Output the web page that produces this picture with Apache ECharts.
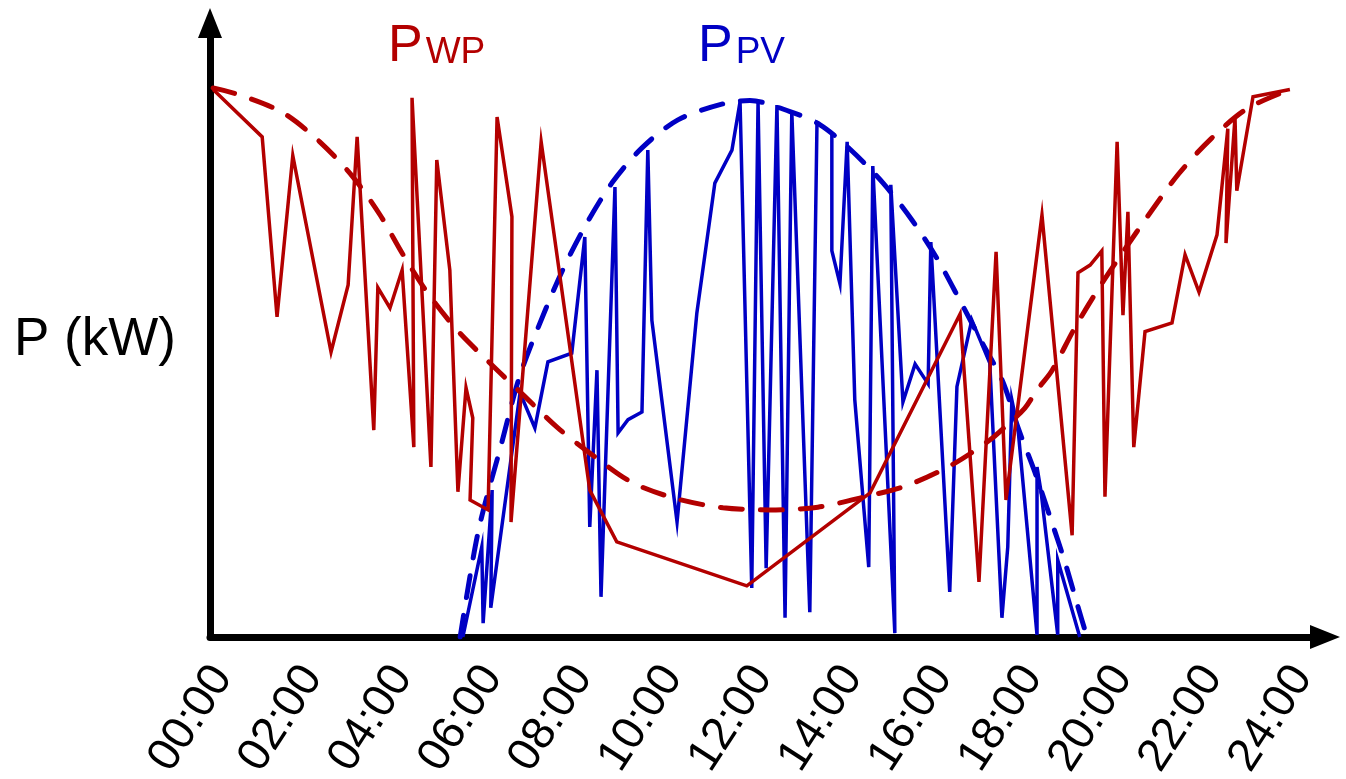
<!DOCTYPE html>
<html>
<head>
<meta charset="utf-8">
<title>P_WP / P_PV</title>
<script src="https://cdn.jsdelivr.net/npm/echarts/dist/echarts.min.js"></script>
<style>
  html, body { margin: 0; padding: 0; background: #fff; }
  #chart { width: 1346px; height: 779px; }
</style>
</head>
<body>
<div id="chart"></div>
<script>
// time of day in hours, power in arbitrary units (0..100)
var tickLabels = ['00:00', '02:00', '04:00', '06:00', '08:00', '10:00', '12:00',
                  '14:00', '16:00', '18:00', '20:00', '22:00', '24:00'];

// wind power, measured
var wpHours = [0.07, 1.16, 1.49, 1.84, 2.69, 3.07, 3.27, 3.64, 3.73, 4.00, 4.27, 4.53, 4.49, 4.91,
  5.04, 5.33, 5.51, 5.69, 5.84, 5.78, 6.18, 6.38, 6.71, 6.69, 7.36, 8.44, 9.04, 11.93, 14.67,
  16.67, 17.09, 17.47, 17.69, 18.49, 19.16, 19.29, 19.56, 19.82, 19.89, 20.16, 20.29, 20.40,
  20.53, 20.78, 21.38, 21.67, 21.98, 22.38, 22.62, 22.58, 22.78, 22.82, 23.18, 24.00];
var wpPower = [99.5, 90.9, 58.2, 87.5, 51.8, 64.0, 90.9, 37.6, 63.5, 59.8, 66.7, 34.5, 98.0, 30.9,
  86.7, 66.7, 26.4, 45.3, 39.8, 24.9, 23.1, 94.5, 76.4, 20.9, 90.0, 26.7, 17.3, 9.3, 26.2,
  58.7, 10.0, 70.0, 24.9, 76.7, 18.5, 66.2, 67.6, 70.2, 25.5, 90.0, 58.5, 77.3,
  34.5, 55.5, 57.1, 69.5, 62.7, 73.1, 92.4, 71.6, 94.4, 81.1, 98.2, 99.5];

// wind power, trend (dashed)
var wpTrendHours = [0.07, 0.67, 1.62, 2.44, 3.18, 3.78, 4.29, 4.84, 5.49, 6.22, 6.96, 7.73, 8.56,
  9.40, 10.38, 11.40, 12.44, 13.51, 14.56, 15.51, 16.49, 17.33, 17.71, 18.11, 18.38, 18.71,
  19.22, 19.76, 20.29, 20.91, 21.53, 22.24, 23.04, 24.00];
var wpTrendPower = [99.8, 98.5, 95.3, 90.0, 83.6, 76.7, 69.5, 62.5, 55.8, 49.8, 44.0, 38.0, 32.7,
  28.0, 25.1, 23.5, 23.1, 23.6, 25.5, 27.6, 31.3, 35.8, 38.5, 41.6, 44.9, 48.4,
  56.2, 63.5, 70.0, 77.3, 84.2, 90.5, 96.0, 99.5];

// photovoltaic power, measured
var pvHours = [5.62, 6.04, 6.07, 6.27, 6.24, 6.89, 7.22, 7.51, 8.04, 8.33, 8.44, 8.60, 8.69, 9.00,
  9.07, 9.29, 9.60, 9.73, 9.82, 10.38, 10.82, 11.22, 11.60, 11.78, 12.04, 12.18, 12.36, 12.60,
  12.78, 12.93, 13.33, 13.49, 13.82, 13.82, 14.00, 14.16, 14.33, 14.64, 14.73, 15.22, 15.13,
  15.40, 15.67, 15.96, 16.02, 16.44, 16.60, 16.93, 17.33, 17.60, 17.73, 17.82, 17.96, 18.38,
  18.38, 18.47, 18.84, 18.84, 19.33];
var pvPower = [0, 16.4, 2.5, 26.7, 5.3, 44.4, 38.0, 50.0, 51.6, 72.7, 20.0, 48.5, 7.3, 81.8,
  37.1, 39.5, 40.9, 88.5, 57.6, 20.9, 58.9, 82.5, 88.5, 97.3, 8.9, 97.3, 12.5, 96.7,
  3.5, 95.5, 4.5, 93.5, 91.6, 70.2, 64.2, 90.0, 43.1, 12.7, 85.6, 0.7, 82.2,
  42.7, 49.6, 46.0, 71.8, 8.2, 45.5, 57.6, 49.8, 3.5, 16.4, 43.1, 37.6, 0.4,
  30.9, 26.4, 0.4, 14.0, 0];

// photovoltaic power, trend (dashed)
var pvTrendHours = [5.56, 5.96, 6.49, 6.89, 7.47, 7.89, 8.38, 8.93, 9.60, 10.40, 11.40, 12.00,
  12.89, 13.56, 14.22, 14.96, 15.60, 16.18, 16.67, 17.16, 17.62, 17.96, 18.33, 18.67, 19.00,
  19.29, 19.49];
var pvTrendPower = [0, 19.1, 35.5, 47.6, 59.8, 67.6, 75.3, 82.5, 88.9, 94.0, 96.9, 97.5,
  95.5, 93.1, 88.7, 82.5, 75.8, 68.5, 61.1, 53.5, 46.4, 38.0, 30.0, 21.8, 13.6,
  5.5, 0];

var RED = '#b30000';
var BLUE = '#0000c4';
var FONT = '"Liberation Sans", Arial, sans-serif';

function pairs(xs, ys) {
  var out = [];
  for (var i = 0; i < xs.length; i++) out.push([xs[i], ys[i]]);
  return out;
}

var chart = echarts.init(document.getElementById('chart'), null, { renderer: 'canvas' });

var option = {
  backgroundColor: '#fff',
  animation: false,
  textStyle: { fontFamily: FONT },
  grid: { left: 210, right: 21, top: 23, bottom: 142, outerBoundsMode: 'none', containLabel: false },
  xAxis: {
    type: 'value',
    min: 0,
    max: 24.78,
    interval: 2,
    axisLine: {
      lineStyle: { color: '#000', width: 7 },
      symbol: ['none', 'triangle'],
      symbolSize: [24, 30],
      symbolOffset: [0, 0]
    },
    axisTick: { show: false },
    splitLine: { show: false },
    axisLabel: {
      rotate: 57,
      margin: 10,
      color: '#000',
      fontSize: 46,
      fontFamily: FONT,
      verticalAlign: 'top',
      showMaxLabel: false,
      formatter: function (v) {
        if (v > 24 || v % 2 !== 0) return '';
        // trailing space keeps the label end slightly off the tick, as in the source
        return tickLabels[v / 2] + ' ';
      }
    }
  },
  yAxis: {
    type: 'value',
    min: 0,
    max: 111.6,
    axisLine: {
      show: true,
      lineStyle: { color: '#000', width: 7 },
      symbol: ['none', 'triangle'],
      symbolSize: [24, 30],
      symbolOffset: [0, 0]
    },
    axisTick: { show: false },
    axisLabel: { show: false },
    splitLine: { show: false }
  },
  graphic: [
    {
      type: 'text', left: 14, top: 314,
      style: { text: 'P (kW)', fontSize: 53, fontFamily: FONT, fill: '#000' }
    },
    {
      type: 'text', left: 388, top: 21,
      style: {
        text: '{a|P}{b|WP}',
        rich: {
          a: { fontSize: 52, fontFamily: FONT, fill: RED, color: RED, verticalAlign: 'bottom' },
          b: { fontSize: 37, fontFamily: FONT, fill: RED, color: RED, verticalAlign: 'bottom', padding: [0, 0, 2, 3] }
        }
      }
    },
    {
      type: 'text', left: 698, top: 21,
      style: {
        text: '{a|P}{b|PV}',
        rich: {
          a: { fontSize: 52, fontFamily: FONT, fill: BLUE, color: BLUE, verticalAlign: 'bottom' },
          b: { fontSize: 37, fontFamily: FONT, fill: BLUE, color: BLUE, verticalAlign: 'bottom', padding: [0, 0, 2, 3] }
        }
      }
    }
  ],
  series: [
    {
      name: 'PV',
      type: 'line',
      data: pairs(pvHours, pvPower),
      showSymbol: false,
      lineStyle: { color: BLUE, width: 3.5, join: 'miter' },
      z: 2
    },
    {
      name: 'PV trend',
      type: 'line',
      data: pairs(pvTrendHours, pvTrendPower),
      showSymbol: false,
      smooth: 0.3,
      lineStyle: { color: BLUE, width: 5, type: [22, 18], cap: 'round' },
      z: 3
    },
    {
      name: 'WP',
      type: 'line',
      data: pairs(wpHours, wpPower),
      showSymbol: false,
      lineStyle: { color: RED, width: 3.5, join: 'miter' },
      z: 4
    },
    {
      name: 'WP trend',
      type: 'line',
      data: pairs(wpTrendHours, wpTrendPower),
      showSymbol: false,
      smooth: 0.3,
      lineStyle: { color: RED, width: 5, type: [22, 18], cap: 'round' },
      z: 5
    }
  ]
};

chart.setOption(option);
</script>
</body>
</html>
